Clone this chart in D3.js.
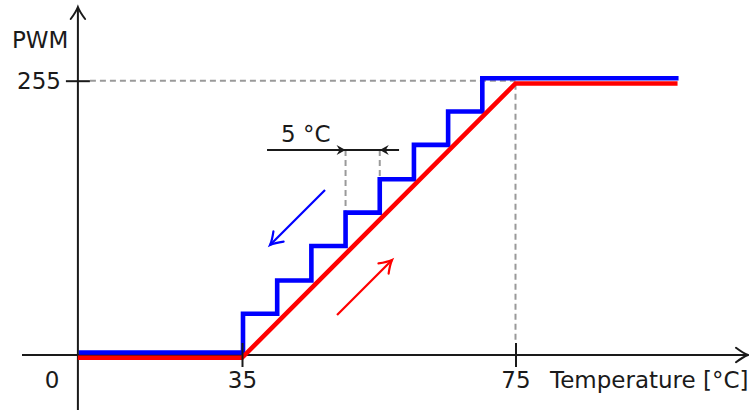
<!DOCTYPE html>
<html>
<head>
<meta charset="utf-8">
<script src="https://cdn.jsdelivr.net/npm/d3@7"></script>
<style>
body { margin: 0; background: #fff; }
svg { display: block; font-family: "DejaVu Sans", sans-serif; }
</style>
</head>
<body>
<svg id="chart" width="749" height="410"></svg>
<script>
// data (temperature in °C, fan PWM 0..255)
const stepTemp = [11, 35, 40, 45, 50, 55, 60, 65, 70, 98.7];
const bluePwm = [0, 36, 67, 99, 130, 161, 193, 224, 255, 255];
const redTemp = [11, 35, 75, 98.7];
const redPwm = [0, 0, 255, 255];
const xTicks = [35, 75];
const yTicks = [255];
const stepMarks = [50, 55];

const svg = d3.select("#chart");
const textColor = "#1a1a1a";
const dashColor = "#9a9a9a";
const fontSize = 23;

const x = d3.scaleLinear().domain([35, 75]).range([242, 515.5]);
const y = d3.scaleLinear().domain([0, 255]).range([355, 80.7]);

// open "to" style arrow head
function arrowHead(px, py, angle, color, size, width) {
    const s = size / 10;
    svg.append("path")
        .attr("d", `M${-10 * s},${-6 * s} Q${-4 * s},${-1.5 * s} 0,0 Q${-4 * s},${1.5 * s} ${-10 * s},${6 * s}`)
        .attr("transform", `translate(${px},${py}) rotate(${angle})`)
        .attr("fill", "none")
        .attr("stroke", color)
        .attr("stroke-width", width)
        .attr("stroke-linecap", "round");
}

// stealth style head for the 5 °C dimension
function stealthHead(px, py, angle) {
    svg.append("path")
        .attr("d", "M0,0 L-9,-5 L-6,0 L-9,5 Z")
        .attr("transform", `translate(${px},${py}) rotate(${angle})`)
        .attr("fill", textColor);
}

function arrow(t0, p0, t1, p1, color) {
    const x0 = x(t0), y0 = y(p0), x1 = x(t1), y1 = y(p1);
    svg.append("line")
        .attr("x1", x0).attr("y1", y0).attr("x2", x1).attr("y2", y1)
        .attr("stroke", color).attr("stroke-width", 2.2);
    const ang = Math.atan2(y1 - y0, x1 - x0) * 180 / Math.PI;
    arrowHead(x1, y1, ang, color, 12, 2.2);
}

// axes lines
const origin = { x: x(11), y: y(0) };
svg.append("line")
    .attr("x1", 22).attr("x2", 747).attr("y1", origin.y).attr("y2", origin.y)
    .attr("stroke", textColor).attr("stroke-width", 2);
arrowHead(748, origin.y, 0, textColor, 12, 2);
svg.append("line")
    .attr("x1", origin.x).attr("x2", origin.x).attr("y1", 410).attr("y2", 8)
    .attr("stroke", textColor).attr("stroke-width", 2);
arrowHead(origin.x, 7, -90, textColor, 12, 2);

// dashed guides
svg.append("line")
    .attr("x1", origin.x + 12).attr("x2", x(75)).attr("y1", y(255)).attr("y2", y(255))
    .attr("stroke", dashColor).attr("stroke-width", 2).attr("stroke-dasharray", "6,4");
svg.append("line")
    .attr("x1", x(75)).attr("x2", x(75)).attr("y1", y(255) + 3).attr("y2", y(0) - 12)
    .attr("stroke", dashColor).attr("stroke-width", 2).attr("stroke-dasharray", "6,4");

const dimPwm = 190.6;
stepMarks.forEach(t => {
    const i = stepTemp.indexOf(t);
    svg.append("line")
        .attr("x1", x(t) + 1).attr("x2", x(t) + 1)
        .attr("y1", y(dimPwm)).attr("y2", y(bluePwm[i]) - 2.5)
        .attr("stroke", dashColor).attr("stroke-width", 2).attr("stroke-dasharray", "6,4");
});

// 5 °C dimension
svg.append("line")
    .attr("x1", x(38.66)).attr("x2", x(57.97)).attr("y1", y(dimPwm)).attr("y2", y(dimPwm))
    .attr("stroke", textColor).attr("stroke-width", 2);
stealthHead(x(stepMarks[0]) + 1, y(dimPwm), 0);
stealthHead(x(stepMarks[1]) + 1, y(dimPwm), 180);
svg.append("text")
    .attr("x", 281).attr("y", y(dimPwm) - 8)
    .attr("font-size", fontSize).attr("fill", textColor)
    .text("5 °C");

// curves
const blueLine = d3.line()
    .x((d, i) => x(stepTemp[i]))
    .y(d => y(d))
    .curve(d3.curveStepAfter);
const redLine = d3.line()
    .x((d, i) => x(redTemp[i]))
    .y(d => y(d));

svg.append("path")
    .attr("d", blueLine(bluePwm))
    .attr("transform", "translate(1,-2.5)")
    .attr("fill", "none").attr("stroke", "#0000ff").attr("stroke-width", 4.6);
svg.append("path")
    .attr("d", redLine(redPwm))
    .attr("transform", "translate(0,2.8)")
    .attr("fill", "none").attr("stroke", "#ff0000").attr("stroke-width", 4.6);

// direction arrows
arrow(47.14, 153.4, 39.1, 102.3, "#0000ff");
arrow(48.9, 37.2, 56.94, 88.3, "#ff0000");

// ticks via d3 axes
const xAxis = svg.append("g")
    .attr("transform", `translate(0,${origin.y - 12})`)
    .call(d3.axisBottom(x).tickValues(xTicks).tickSize(24).tickPadding(5));
xAxis.select(".domain").remove();
xAxis.selectAll("line").attr("stroke", textColor).attr("stroke-width", 2);
xAxis.selectAll("text").attr("font-size", fontSize).attr("fill", textColor)
    .attr("font-family", "DejaVu Sans");

const yAxis = svg.append("g")
    .attr("transform", `translate(${origin.x + 12},0)`)
    .call(d3.axisLeft(y).tickValues(yTicks).tickSize(24).tickPadding(5));
yAxis.select(".domain").remove();
yAxis.selectAll("line").attr("stroke", textColor).attr("stroke-width", 2);
yAxis.selectAll("text").attr("font-size", fontSize).attr("fill", textColor)
    .attr("font-family", "DejaVu Sans").attr("dy", "0.36em");

// labels
svg.append("text").attr("x", 52).attr("y", 388).attr("text-anchor", "middle")
    .attr("font-size", fontSize).attr("fill", textColor).text("0");
svg.append("text").attr("x", 12).attr("y", 48)
    .attr("font-size", fontSize).attr("fill", textColor).text("PWM");
svg.append("text").attr("x", 550).attr("y", 388)
    .attr("font-size", fontSize).attr("fill", textColor).text("Temperature [°C]");
</script>
</body>
</html>
